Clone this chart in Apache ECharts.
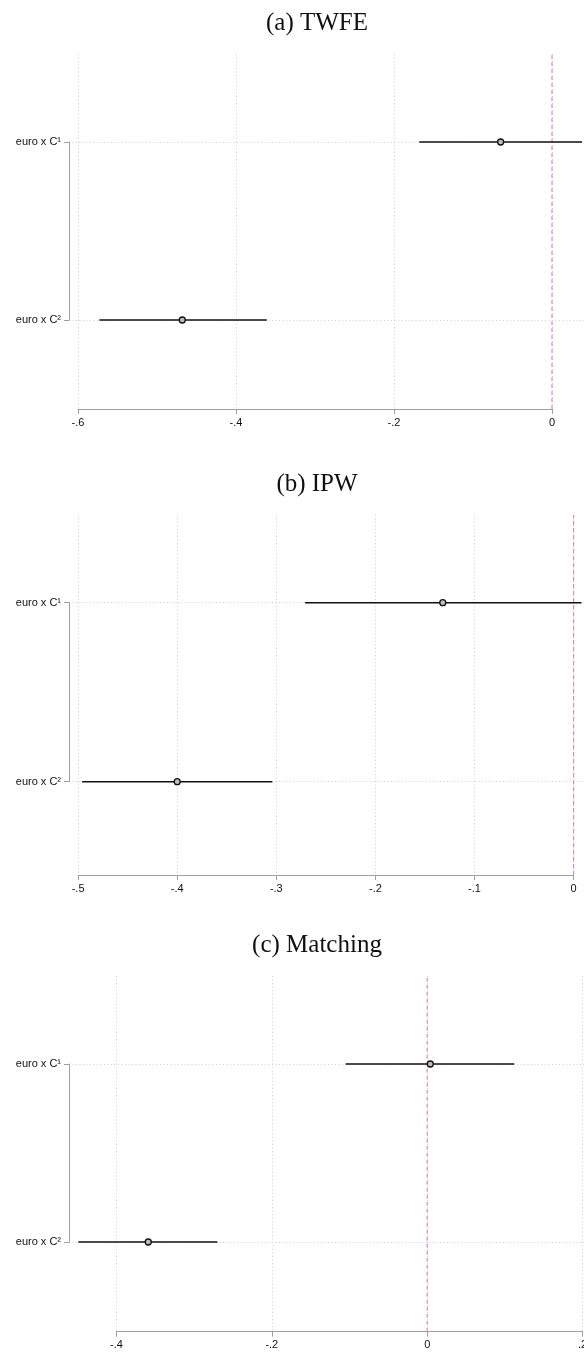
<!DOCTYPE html>
<html>
<head>
<meta charset="utf-8">
<title>Coefficient plots</title>
<script src="https://cdn.jsdelivr.net/npm/echarts@6.0.0/dist/echarts.min.js"></script>
<style>
  html, body { margin: 0; padding: 0; background: #fff; }
  #chart { width: 584px; height: 1353px; }
</style>
</head>
<body>
<div id="chart"></div>
<script>
// rows of the coefficient plot
var categories = ["euro x C\u00b9", "euro x C\u00b2"];
var panelTitles = ["(a) TWFE", "(b) IPW", "(c) Matching"];

// point estimates and 95% bounds, one value per row
var twfeEst = [-0.065, -0.468];
var twfeLow = [-0.168, -0.573];
var twfeHigh = [0.038, -0.361];

var ipwEst = [-0.132, -0.400];
var ipwLow = [-0.271, -0.496];
var ipwHigh = [0.008, -0.304];

var matchEst = [0.004, -0.359];
var matchLow = [-0.105, -0.449];
var matchHigh = [0.112, -0.270];

// x tick labels per panel
var ticksA = [-0.6, -0.4, -0.2, 0];
var ticksB = [-0.5, -0.4, -0.3, -0.2, -0.1, 0];
var ticksC = [-0.4, -0.2, 0, 0.2];

var refLine = [0];

var panels = [
  { est: twfeEst, low: twfeLow, high: twfeHigh, ticks: ticksA },
  { est: ipwEst, low: ipwLow, high: ipwHigh, ticks: ticksB },
  { est: matchEst, low: matchLow, high: matchHigh, ticks: ticksC }
];

// pixel layout of each panel (zero position, px per unit, vertical positions)
var layout = [
  { zero: 552, ppu: 790, titleTop: 6, plotTop: 54, row1: 142, row2: 320, axisY: 409 },
  { zero: 573.6, ppu: 991, titleTop: 467, plotTop: 515, row1: 602.7, row2: 781.7, axisY: 875 },
  { zero: 427.2, ppu: 777, titleTop: 928, plotTop: 976, row1: 1064, row2: 1242, axisY: 1331.7 }
];
var bracketLeft = 69;
var plotRight = 720; // plot region runs past the right edge of the picture
var titleCenter = 312;

var sansFont = "Liberation Sans";
var gridColor = "#cfcfcf";
var axisColor = "#a0a0a0";

function tickText(v) {
  if (Math.abs(v) < 1e-9) return "0";
  var s = String(Math.round(v * 10) / 10);
  return s.replace("0.", ".");
}

var chart = echarts.init(document.getElementById("chart"));

var option = {
  animation: false,
  backgroundColor: "#fff",
  title: [],
  grid: [],
  xAxis: [],
  yAxis: [],
  series: []
};

panels.forEach(function (p, i) {
  var L = layout[i];
  var first = p.ticks[0];
  var last = p.ticks[p.ticks.length - 1];
  var axisGrid = i * 2;
  var rowGrid = i * 2 + 1;

  option.title.push({
    text: panelTitles[i],
    left: titleCenter,
    textAlign: "center",
    top: L.titleTop,
    textStyle: {
      fontFamily: "Liberation Serif",
      fontWeight: "normal",
      fontSize: 25,
      color: "#111"
    }
  });

  // grid holding the x axis, from first to last tick
  option.grid.push({
    left: L.zero + first * L.ppu,
    width: (last - first) * L.ppu,
    top: L.plotTop,
    height: L.axisY - L.plotTop,
    outerBoundsMode: "none"
  });
  // grid holding the rows, between the two row positions
  option.grid.push({
    left: bracketLeft,
    width: plotRight - bracketLeft,
    top: L.row1,
    height: L.row2 - L.row1,
    outerBoundsMode: "none"
  });

  option.xAxis.push({
    gridIndex: axisGrid,
    type: "value",
    min: first,
    max: last,
    interval: p.ticks[1] - p.ticks[0],
    axisLine: { show: true, onZero: false, lineStyle: { color: axisColor, width: 1 } },
    axisTick: { show: true, inside: false, length: 5, lineStyle: { color: axisColor } },
    axisLabel: {
      margin: 8,
      fontFamily: sansFont,
      fontSize: 11,
      color: "#111",
      formatter: tickText
    },
    splitLine: { show: true, lineStyle: { color: gridColor, type: [1, 2.5], width: 1 } }
  });
  option.xAxis.push({
    gridIndex: rowGrid,
    type: "value",
    show: false,
    min: (bracketLeft - L.zero) / L.ppu,
    max: (plotRight - L.zero) / L.ppu
  });

  option.yAxis.push({
    gridIndex: axisGrid,
    type: "value",
    show: false,
    min: 0,
    max: 1
  });
  option.yAxis.push({
    gridIndex: rowGrid,
    type: "value",
    position: "left",
    min: 1,
    max: 2,
    interval: 1,
    inverse: true,
    axisLine: { show: true, onZero: false, lineStyle: { color: axisColor, width: 1 } },
    axisTick: { show: true, inside: false, length: 5, lineStyle: { color: axisColor } },
    axisLabel: {
      margin: 8,
      fontFamily: sansFont,
      fontSize: 11,
      color: "#111",
      formatter: function (v) { return categories[v - 1] || ""; }
    },
    splitLine: { show: true, lineStyle: { color: gridColor, type: [1, 2.5], width: 1 } }
  });

  // dashed reference line at zero
  option.series.push({
    type: "custom",
    xAxisIndex: axisGrid,
    yAxisIndex: axisGrid,
    clip: false,
    silent: true,
    z: 3,
    data: refLine.map(function (v) { return [v]; }),
    renderItem: function (params, api) {
      var a = api.coord([api.value(0), 0]);
      var b = api.coord([api.value(0), 1]);
      return {
        type: "line",
        shape: { x1: a[0], y1: a[1], x2: b[0], y2: b[1] },
        style: { stroke: "#dc8cbc", lineWidth: 1.2, lineDash: [4, 3] }
      };
    }
  });

  // confidence intervals
  option.series.push({
    type: "custom",
    xAxisIndex: rowGrid,
    yAxisIndex: rowGrid,
    clip: false,
    silent: true,
    z: 4,
    data: categories.map(function (c, k) { return [p.low[k], p.high[k], k + 1]; }),
    renderItem: function (params, api) {
      var a = api.coord([api.value(0), api.value(2)]);
      var b = api.coord([api.value(1), api.value(2)]);
      return {
        type: "line",
        shape: { x1: a[0], y1: a[1], x2: b[0], y2: b[1] },
        style: { stroke: "#111", lineWidth: 1.4 }
      };
    }
  });

  // point estimates
  option.series.push({
    type: "scatter",
    xAxisIndex: rowGrid,
    yAxisIndex: rowGrid,
    clip: false,
    silent: true,
    z: 5,
    symbol: "circle",
    symbolSize: 6,
    itemStyle: { color: "#bdbdbd", borderColor: "#111", borderWidth: 1.3, opacity: 1 },
    data: categories.map(function (c, k) { return [p.est[k], k + 1]; })
  });
});

chart.setOption(option);
</script>
</body>
</html>
